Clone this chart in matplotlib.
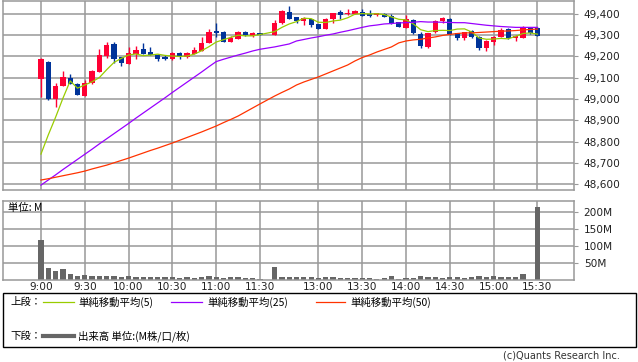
import numpy as np
import matplotlib.pyplot as plt
from matplotlib.patches import Rectangle
from matplotlib.lines import Line2D
from matplotlib.ticker import FuncFormatter

JP = ['Noto Sans CJK JP', 'DejaVu Sans']
plt.rcParams['font.family'] = ['DejaVu Sans', 'Noto Sans CJK JP']

# 5-minute bars, morning 9:00-11:30, afternoon 12:30-15:30
times = [f"{h}:{m:02d}" for h in range(9, 12) for m in range(0, 60, 5) if (h, m) <= (11, 30)] + \
        [f"{h}:{m:02d}" for h in range(12, 16) for m in range(0, 60, 5) if (12, 30) <= (h, m) <= (15, 30)]

o = np.array([49093, 49176, 49000, 49061, 49100, 49072, 49016, 49074, 49128, 49202,
              49259, 49196, 49165, 49212, 49237, 49220, 49208, 49196, 49187, 49218,
              49196, 49212, 49227, 49265, 49320, 49315, 49270, 49284, 49315, 49296, 49310,
              49303, 49359, 49409, 49384, 49368, 49375, 49353, 49329, 49375, 49409,
              49399, 49400, 49409, 49400, 49394, 49400, 49391, 49362, 49336, 49372,
              49304, 49243, 49314, 49367, 49376, 49309, 49286, 49320, 49293, 49239,
              49270, 49293, 49329, 49286, 49288, 49336, 49336])
h = np.array([49193, 49180, 49074, 49132, 49118, 49075, 49089, 49137, 49234, 49268,
              49268, 49199, 49243, 49248, 49264, 49243, 49212, 49205, 49220, 49220,
              49220, 49246, 49290, 49328, 49356, 49318, 49295, 49320, 49318, 49315, 49312,
              49372, 49418, 49438, 49388, 49384, 49378, 49355, 49380, 49406, 49419,
              49422, 49418, 49422, 49419, 49406, 49403, 49400, 49364, 49395, 49374,
              49317, 49312, 49372, 49385, 49380, 49312, 49317, 49325, 49296, 49276,
              49296, 49336, 49332, 49300, 49345, 49338, 49340])
l = np.array([49009, 48995, 48964, 49060, 49070, 49018, 49015, 49072, 49126, 49192,
              49168, 49157, 49163, 49187, 49210, 49205, 49180, 49183, 49185, 49187,
              49194, 49210, 49225, 49262, 49290, 49268, 49268, 49281, 49298, 49294, 49300,
              49300, 49355, 49375, 49359, 49348, 49340, 49327, 49327, 49358, 49375,
              49396, 49398, 49390, 49384, 49392, 49385, 49354, 49338, 49334, 49307,
              49239, 49240, 49312, 49356, 49302, 49278, 49278, 49288, 49231, 49226,
              49254, 49290, 49283, 49273, 49286, 49307, 49296])
c = np.array([49188, 48999, 49061, 49104, 49072, 49020, 49075, 49133, 49207, 49254,
              49190, 49171, 49215, 49231, 49212, 49208, 49187, 49187, 49218, 49202,
              49218, 49231, 49265, 49315, 49312, 49270, 49288, 49315, 49300, 49310, 49303,
              49359, 49414, 49378, 49368, 49380, 49348, 49329, 49376, 49403, 49397,
              49406, 49414, 49392, 49391, 49403, 49387, 49356, 49340, 49375, 49309,
              49251, 49309, 49367, 49380, 49304, 49286, 49314, 49293, 49239, 49273,
              49293, 49325, 49286, 49298, 49336, 49309, 49298])

ma5 = [48741, 48831, 48914, 49003, 49085, 49051, 49066, 49081, 49101, 49138,
       49172, 49191, 49207, 49212, 49204, 49207, 49211, 49205, 49202, 49200,
       49202, 49211, 49227, 49246, 49268, 49279, 49290, 49300, 49297, 49297, 49303,
       49317, 49337, 49353, 49364, 49380, 49378, 49361, 49360, 49367, 49371,
       49382, 49399, 49402, 49400, 49401, 49397, 49386, 49375, 49372, 49353,
       49326, 49317, 49322, 49323, 49322, 49329, 49330, 49315, 49287, 49281,
       49282, 49285, 49283, 49295, 49308, 49311, 49305]
ma25 = [48595, 48619, 48643, 48668, 48692, 48716, 48740, 48764, 48789, 48813,
        48837, 48861, 48885, 48910, 48934, 48958, 48982, 49006, 49031, 49055,
        49079, 49103, 49127, 49152, 49176, 49187, 49197, 49207, 49216, 49226, 49234,
        49245, 49252, 49259, 49273, 49280, 49287, 49293, 49300, 49306, 49314,
        49321, 49329, 49337, 49344, 49348, 49353, 49355, 49358, 49359, 49361,
        49364, 49362, 49362, 49361, 49360, 49359, 49359, 49355, 49351, 49347,
        49344, 49341, 49339, 49337, 49337, 49337, 49337]
ma50 = [48619, 48625, 48632, 48639, 48646, 48653, 48661, 48671, 48680, 48689,
        48700, 48711, 48722, 48734, 48746, 48758, 48769, 48781, 48793, 48806,
        48819, 48832, 48845, 48859, 48873, 48889, 48904, 48920, 48939, 48958, 48977,
        49014, 49031, 49047, 49066, 49080, 49092, 49104, 49118, 49132, 49146,
        49160, 49179, 49195, 49207, 49221, 49233, 49245, 49264, 49273, 49278,
        49281, 49287, 49292, 49299, 49304, 49308, 49311, 49311, 49313, 49315,
        49317, 49319, 49320, 49322, 49325, 49327, 49329]

vol = [118, 35, 27, 33, 18, 12, 15, 12, 12, 12, 12, 9, 12, 9, 9, 9, 9, 9, 9, 6,
       9, 6, 9, 12, 9, 6, 9, 9, 6, 6, 3,
       38, 9, 9, 9, 9, 9, 6, 9, 9, 6, 6, 6, 6, 6, 3.5, 6, 12, 3.5, 6, 6,
       12, 9, 9, 6, 9, 9, 6, 9, 12, 9, 12, 9, 9, 9, 18, 1, 215]

tick_labels = ['9:00', '9:30', '10:00', '10:30', '11:00', '11:30',
               '13:00', '13:30', '14:00', '14:30', '15:00', '15:30']

# one empty slot for the lunch break
slots = np.r_[np.arange(31), np.arange(32, 69)]
tick_pos = [slots[times.index(t)] for t in tick_labels]

RED, BLUE = '#ff0033', '#003399'
GRID = '#999999'

W, H = 638, 362
fig = plt.figure(figsize=(W / 100, H / 100), dpi=100)


def box(x0, y0, x1, y1):
    return [x0 / W, 1 - y1 / H, (x1 - x0) / W, (y1 - y0) / H]


ax1 = fig.add_axes(box(3, 1, 574, 190))
ax2 = fig.add_axes(box(3, 201, 574, 280))

for ax in (ax1, ax2):
    ax.set_xlim(-5.2, 73)
    ax.set_xticks(tick_pos)
    ax.grid(True, color=GRID, lw=1.1)
    ax.set_axisbelow(True)
    ax.yaxis.tick_right()
    ax.tick_params(axis='y', labelsize=7.6, colors=GRID, labelcolor='#222222', length=3, pad=4)
    for s in ax.spines.values():
        s.set_color(GRID)
        s.set_linewidth(1.1)

# candles
cols = np.where(c >= o, RED, BLUE)
ax1.vlines(slots, l, h, colors=cols, lw=1.0, zorder=2)
ax1.bar(slots, np.maximum(np.abs(c - o), 3), bottom=np.minimum(o, c), width=0.72,
        color=cols, linewidth=0, zorder=2)
ax1.plot(slots, ma5, color='#99cc00', lw=0.9, zorder=3)
ax1.plot(slots, ma25, color='#9900ff', lw=0.9, zorder=3)
ax1.plot(slots, ma50, color='#ff3300', lw=0.9, zorder=3)
ax1.set_ylim(48572, 49461)
ax1.set_yticks(range(48600, 49401, 100))
ax1.yaxis.set_major_formatter(FuncFormatter(lambda v, p: f"{int(v):,}"))
ax1.tick_params(axis='x', length=0, labelbottom=False)

# volume
ax2.bar(slots, vol, width=0.72, color='#666666', linewidth=0)
ax2.set_ylim(0, 232)
ax2.set_yticks([50, 100, 150, 200])
ax2.set_yticklabels(['50M', '100M', '150M', '200M'])
ax2.set_xticklabels(tick_labels)
ax2.tick_params(axis='x', length=0, labelsize=7.6, labelcolor='#222222', pad=1.5)
ax2.text(5 / 571, 1 - 7 / 79, '単位: M', transform=ax2.transAxes, family=JP,
         fontsize=7.5, va='center', ha='left')

# legend box
fig.add_artist(Rectangle((3 / W, 1 - 347 / H), 633 / W, 54 / H, transform=fig.transFigure,
                         fill=False, ec='black', lw=1))


def ftext(x, y, s, **kw):
    fig.text(x / W, 1 - y / H, s, va='center', ha='left', fontsize=7.5, family=JP, **kw)


def fline(x0, x1, y, color, lw):
    fig.add_artist(Line2D([x0 / W, x1 / W], [1 - y / H, 1 - y / H], transform=fig.transFigure,
                          color=color, lw=lw))


ftext(10, 302, '上段：')
fline(43, 74, 302, '#99cc00', 0.9)
ftext(78, 302, '単純移動平均(5)')
fline(171, 202, 302, '#9900ff', 0.9)
ftext(207, 302, '単純移動平均(25)')
fline(316, 345, 302, '#ff3300', 0.9)
ftext(350, 302, '単純移動平均(50)')
ftext(10, 336, '下段：')
fline(43, 74, 336, '#666666', 3)
ftext(78, 336, '出来高 単位:(M株/口/枚)')

fig.text(620 / W, 1 - 356 / H, '(c)Quants Research Inc.', ha='right', va='center',
         fontsize=7, color='#333333')

fig.savefig('out.png', dpi=100)
